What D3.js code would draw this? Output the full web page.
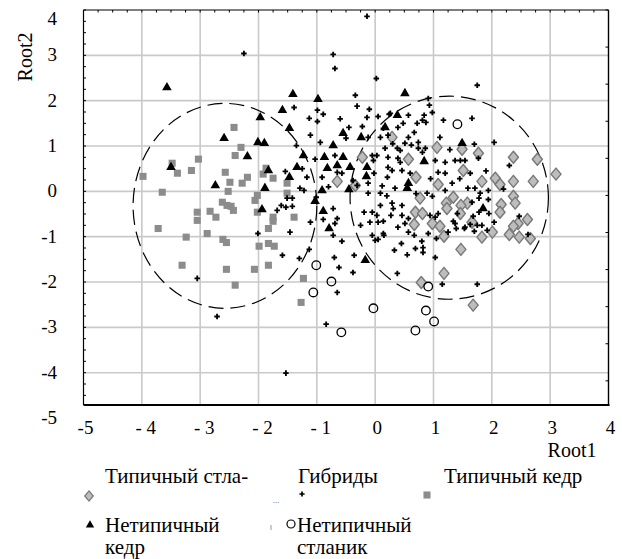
<!DOCTYPE html>
<html>
<head>
<meta charset="utf-8">
<script src="https://cdn.jsdelivr.net/npm/d3@7"></script>
<style>
  html, body { margin: 0; padding: 0; background: #fff; }
</style>
</head>
<body>
<svg id="chart" width="622" height="559"></svg>
<script>
// Canonical discriminant scores (Root1, Root2) for five groups
const typicalStlanik = [
  [-0.65,0.22],[-0.22,0.75],[0.29,1.19],[0.57,0.71],[0.70,0.31],[1.06,0.97],[1.49,0.93],
  [1.08,0.15],[1.51,0.46],[1.77,0.84],[1.83,0.22],[2.06,0.29],[2.14,0.15],[2.37,0.75],
  [2.37,0.22],[2.71,0.22],[2.78,0.71],[3.10,0.38],[2.37,-0.11],[2.40,-0.26],[2.16,-0.29],
  [2.14,-0.46],[2.61,-0.62],[2.45,-0.71],[2.30,-0.95],[2.47,-1.01],[2.66,-1.04],[2.01,-0.90],
  [1.83,-1.01],[1.66,-0.68],[1.58,-0.26],[1.47,-0.31],[1.34,-0.13],[1.22,-0.26],[1.23,-0.38],
  [0.77,-0.15],[0.69,-0.46],[0.81,-0.49],[0.67,-0.73],[0.98,-0.71],[1.11,-0.77],[1.18,-0.99],
  [1.46,-0.49],[1.47,-1.28],[1.18,-1.81],[0.79,-2.01],[1.68,-2.51],[-0.34,0.13],[2.37,-0.77]
];
const hybrids = [
  [-2.25,3.04],[-0.14,3.86],[-0.72,3.02],[-0.69,2.71],[0.02,2.49],[1.75,2.34],[-0.34,2.12],
  [0.91,2.05],[-1.39,1.85],[-0.99,1.79],[-0.89,1.70],[-0.99,1.54],[-1.13,1.61],[-0.31,1.88],
  [-0.10,1.81],[-0.14,1.63],[0.05,1.65],[0.24,1.70],[0.57,1.68],[0.84,1.68],[0.81,1.57],
  [0.93,1.90],[0.98,1.74],[1.17,1.57],[1.66,1.61],[0.48,1.50],[0.72,1.50],[-0.45,1.41],
  [-0.22,1.43],[-1.11,1.24],[-1.35,1.01],[-0.94,1.08],[-0.50,1.17],[-0.12,1.19],[0.09,1.19],
  [0.22,1.24],[0.39,1.41],[0.57,1.19],[0.67,1.30],[0.74,1.08],[1.11,1.19],[0.51,1.06],
  [1.70,1.04],[2.04,1.08],[1.77,0.73],[2.30,0.57],[-1.03,0.71],[-0.69,0.79],[-1.54,0.44],
  [-1.17,0.31],[-0.91,0.31],[-0.65,0.42],[-0.57,0.40],[-0.38,0.24],[-0.31,0.13],[-1.29,0.07],
  [-1.22,0.02],[-1.01,-0.13],[-1.51,-0.15],[-1.42,-0.15],[-1.61,-0.31],[-1.53,-0.35],
  [-1.42,-0.33],[-1.68,-0.42],[-0.72,-0.38],[-0.65,-0.60],[-0.69,-0.71],[-0.89,-0.62],
  [-1.11,-0.68],[-0.72,-0.97],[-0.57,-1.10],[-2.01,-0.93],[-1.46,-0.90],[-1.59,-1.41],
  [-1.30,-1.48],[-0.70,-1.46],[-0.62,-1.68],[-0.38,-1.79],[-0.65,-2.23],[-3.05,-1.92],
  [-2.71,-2.76],[-1.53,-4.01],[-0.84,-2.93],[0.38,-1.81],[1.15,-2.05],[1.75,-2.05],
  [1.03,-1.46],[0.69,-1.26],[0.82,-1.24],[0.82,-1.35],[0.45,-1.15],[0.00,-1.08],[0.14,-0.93],
  [0.26,1.72],[0.87,1.52],[0.14,1.39],[0.74,0.95],[0.86,0.95],[0.81,0.86],[0.38,0.95],
  [0.43,0.90],[0.17,0.95],[-0.05,0.79],[0.03,0.79],[-0.03,0.68],[0.22,0.75],[0.39,0.73],
  [0.22,0.53],[0.29,0.46],[0.21,0.31],[0.46,0.46],[0.43,0.64],[1.03,0.68],[1.20,0.64],
  [1.37,0.68],[1.46,0.68],[1.54,0.68],[1.08,0.42],[1.20,0.40],[1.32,0.18],[1.63,0.40],
  [-0.12,0.18],[0.34,0.07],[-0.12,-0.04],[0.09,-0.04],[0.89,-0.04],[0.98,-0.11],[1.20,0.02],
  [1.59,0.07],[0.09,-0.31],[0.29,-0.26],[0.31,-0.38],[0.46,-0.31],[-0.19,-0.46],[-0.05,-0.46],
  [0.03,-0.53],[0.27,-0.53],[0.46,-0.53],[0.57,-0.60],[0.94,-0.53],[1.03,-0.57],[1.08,-0.49],
  [-0.09,-0.68],[0.05,-0.68],[0.39,-0.79],[0.51,-0.71],[0.57,-0.90],[0.91,-0.93],[1.37,-0.71],
  [1.54,-0.79],[-0.05,-0.97],[0.15,-0.97],[0.05,-1.06],[0.67,-0.97],[1.05,-1.04],[1.39,-0.82],
  [1.53,-0.82],[1.68,-0.55],[1.34,-0.66],[1.41,-0.49],[1.78,-0.46],[1.63,-0.73],[1.75,-0.75],
  [1.83,-0.75],[2.04,-0.68],[1.95,-0.49],[1.92,-0.86],[1.71,0.07],[1.80,-0.04],[1.94,0.02],
  [1.66,-0.24],[1.78,-0.15],[1.94,-0.18],[1.70,-0.88],[2.47,-0.55],[2.62,-0.95],[0.14,-0.66],
  [-0.36,-1.41],[-1.13,-1.28],
  [0.62,1.02],[0.30,1.05],[1.28,0.92],[0.95,0.28],[0.60,0.40],[-0.02,0.40],[0.12,0.12],
  [0.70,-0.05],[1.45,0.28],[0.20,-0.10],[1.25,-0.90],[0.80,-1.10],[-0.25,-0.75],[0.33,-1.30],
  [-0.80,0.10],[-1.25,0.50],[-0.60,1.60],[1.90,0.45],[2.20,0.05],[0.55,-1.40]
];
const typicalKedr = [
  [-2.42,1.41],[-2.30,0.97],[-2.40,0.79],[-3.03,0.71],[-3.48,0.62],[-3.39,0.40],[-3.15,0.46],
  [-3.98,0.33],[-2.57,0.42],[-2.49,0.20],[-2.19,0.31],[-2.28,0.18],[-1.87,0.51],[-1.92,0.38],
  [-1.75,0.29],[-1.51,0.18],[-3.65,-0.02],[-2.52,0.00],[-1.51,-0.04],[-2.02,-0.09],
  [-2.06,-0.20],[-2.62,-0.24],[-2.54,-0.31],[-2.47,-0.33],[-2.43,-0.42],[-2.83,-0.44],
  [-2.73,-0.57],[-3.05,-0.46],[-3.05,-0.64],[-2.02,-0.46],[-1.75,-0.57],[-1.39,-0.57],
  [-1.75,-0.66],[-1.83,-0.82],[-3.72,-0.82],[-3.24,-1.01],[-2.88,-0.93],[-2.61,-1.06],
  [-2.55,-1.13],[-3.31,-1.63],[-2.55,-1.72],[-2.40,-2.07],[-2.07,-1.72],[-1.99,-1.21],
  [-1.83,-1.15],[-1.73,-1.21],[-1.83,-1.63],[-1.23,-1.92],[-1.27,-2.45]
];
const atypicalKedr = [
  [-3.57,2.29],[-1.41,2.14],[-0.98,2.03],[-1.59,1.79],[-1.97,1.63],[-1.47,1.39],[-2.59,1.17],
  [-2.01,1.08],[-1.90,1.06],[-2.19,0.77],[-1.23,0.79],[-3.50,0.53],[-2.74,0.13],[-1.83,0.46],
  [-1.34,0.53],[-1.47,0.31],[-1.89,0.07],[-1.03,-0.22],[-1.94,-0.40],[-0.55,1.28],[-0.72,1.01],
  [-0.87,0.75],[-0.55,0.75],[-0.65,0.57],[-0.43,0.53],[-0.82,0.51],[-0.91,0.02],[-0.45,0.04],
  [-0.89,-0.44],[-0.79,-0.82],[-0.24,1.19],[0.17,1.41],[0.51,2.16],[0.38,1.68],[-0.14,0.53],
  [-0.15,0.33],[0.84,0.66],[0.57,0.18],[0.55,0.07],[1.49,1.06],[1.85,-0.38],[-0.17,-1.52]
];
const atypicalStlanik = [
  [1.41,1.48],[-1.01,-1.63],[-1.06,-2.23],[-0.75,-1.99],[-0.58,-3.11],[-0.03,-2.58],
  [0.87,-2.63],[0.69,-3.07],[1.01,-2.87],[0.91,-2.10]
];

// Confidence ellipses: centre (Root1, Root2) and semi-axes
const ellipseCentres = [[-2.575,-0.32],[1.27,-0.14]];
const ellipseRadii = [[1.575,2.26],[1.70,2.24]];

// Axes
const xTickValues = [-5,-4,-3,-2,-1,0,1,2,3,4];
const xTickLabels = ["-5","- 4","- 3","- 2","- 1","0","1","2","3","4"];
const yTickValues = [4,3,2,1,0,-1,-2,-3,-4,-5];
const yTickLabels = ["4","3","2","1","0","-1","-2","-3","-4","-5"];
const xTitle = "Root1";
const yTitle = "Root2";
const rightTickStep = 0.818;

const legendLabels = ["Типичный стла-", "Гибриды", "Типичный кедр", "Нетипичный\nкедр", "Нетипичный\nстланик"];

const FONT = "Liberation Serif";
const svg = d3.select("#chart");
const plotLeft = 83.5, plotRight = 608.5, plotTop = 10, plotBottom = 405;
const x = d3.scaleLinear().domain([-5, 4]).range([plotLeft, plotRight]);
const y = d3.scaleLinear().domain([4, -4.713]).range([plotTop, plotBottom]);

// grid
const grid = svg.append("g").attr("stroke", "#c9c9c9").attr("stroke-width", 1.6);
grid.selectAll("line.v").data(xTickValues.filter(v => v > -5 && v < 4)).join("line")
  .attr("x1", d => x(d)).attr("x2", d => x(d)).attr("y1", plotTop).attr("y2", plotBottom);
grid.selectAll("line.h").data(yTickValues.filter(v => v < 4 && v > -4.7)).join("line")
  .attr("y1", d => y(d)).attr("y2", d => y(d)).attr("x1", plotLeft).attr("x2", plotRight);

// minor ticks (inside the frame)
const minor = svg.append("g").attr("stroke", "#000").attr("stroke-width", 1);
const leftMinor = d3.range(4, -4.7, -0.25);
minor.selectAll("line.l").data(leftMinor).join("line")
  .attr("x1", plotLeft).attr("x2", plotLeft + 2.5).attr("y1", d => y(d)).attr("y2", d => y(d));
const topMinor = d3.range(-5, 4.01, 0.25);
minor.selectAll("line.t").data(topMinor).join("line")
  .attr("y1", plotTop).attr("y2", plotTop + 2.5).attr("x1", d => x(d)).attr("x2", d => x(d));
const rightMinor = d3.range(4, -4.7, -rightTickStep);
minor.selectAll("line.r").data(rightMinor).join("line")
  .attr("x1", plotRight).attr("x2", plotRight - 3).attr("y1", d => y(d)).attr("y2", d => y(d));

// frame
svg.append("line").attr("x1", plotLeft).attr("x2", plotLeft).attr("y1", plotTop).attr("y2", plotBottom)
  .attr("stroke", "#000").attr("stroke-width", 1.2);
svg.append("line").attr("x1", plotLeft).attr("x2", plotRight).attr("y1", plotTop).attr("y2", plotTop)
  .attr("stroke", "#000").attr("stroke-width", 1.2);
svg.append("line").attr("x1", plotRight).attr("x2", plotRight).attr("y1", plotTop).attr("y2", plotBottom)
  .attr("stroke", "#000").attr("stroke-width", 1.4);
svg.append("line").attr("x1", plotLeft).attr("x2", plotRight + 1).attr("y1", plotBottom).attr("y2", plotBottom)
  .attr("stroke", "#000").attr("stroke-width", 2.2);

// ellipses
svg.append("g").selectAll("ellipse").data(ellipseCentres).join("ellipse")
  .attr("cx", d => x(d[0])).attr("cy", d => y(d[1]))
  .attr("rx", (d, i) => x(ellipseRadii[i][0]) - x(0))
  .attr("ry", (d, i) => y(0) - y(ellipseRadii[i][1]))
  .attr("fill", "none").attr("stroke", "#000").attr("stroke-width", 1.2)
  .attr("stroke-dasharray", "15,7");

// markers
const sym = (type, size) => d3.symbol().type(type).size(size)();
const diamondPath = "M0,-6L5,0L0,6L-5,0Z";
const marks = svg.append("g");
marks.selectAll("path.sq").data(typicalKedr).join("path")
  .attr("d", sym(d3.symbolSquare, 50))
  .attr("transform", d => `translate(${x(d[0])},${y(d[1])})`)
  .attr("fill", "#8c8c8c");
marks.selectAll("path.dm").data(typicalStlanik).join("path")
  .attr("d", diamondPath)
  .attr("transform", d => `translate(${x(d[0])},${y(d[1])})`)
  .attr("fill", "#bdbdbd").attr("stroke", "#7a7a7a").attr("stroke-width", 1.5)
  .attr("stroke-linejoin", "round");
marks.selectAll("path.tr").data(atypicalKedr).join("path")
  .attr("d", sym(d3.symbolTriangle, 40))
  .attr("transform", d => `translate(${x(d[0])},${y(d[1])})`)
  .attr("fill", "#000");
marks.selectAll("path.hy").data(hybrids).join("path")
  .attr("d", sym(d3.symbolCross, 17))
  .attr("transform", d => `translate(${x(d[0])},${y(d[1])})`)
  .attr("fill", "#000");
marks.selectAll("circle.ci").data(atypicalStlanik).join("circle")
  .attr("cx", d => x(d[0])).attr("cy", d => y(d[1])).attr("r", 4.3)
  .attr("fill", "none").attr("stroke", "#000").attr("stroke-width", 1.3);

// tick labels
svg.append("g").attr("font-family", FONT).attr("font-size", 19).attr("text-anchor", "middle")
  .selectAll("text").data(xTickValues).join("text")
  .attr("x", (d, i) => x(d) + (xTickLabels[i].startsWith("- ") ? 4 : 2))
  .attr("y", 434)
  .text((d, i) => xTickLabels[i]);
svg.append("g").attr("font-family", FONT).attr("font-size", 19).attr("text-anchor", "end")
  .selectAll("text").data(yTickValues).join("text")
  .attr("x", 57)
  .attr("y", d => Math.max(y(d), 19) + 6)
  .text((d, i) => yTickLabels[i]);

// axis titles
svg.append("text").attr("font-family", FONT).attr("x", 572).attr("y", 457).attr("font-size", 20)
  .attr("text-anchor", "middle").text(xTitle);
svg.append("text").attr("font-family", FONT).attr("transform", "translate(32,57) rotate(-90)")
  .attr("font-size", 20).attr("text-anchor", "middle").text(yTitle);

// legend
const legend = svg.append("g").attr("font-family", FONT).attr("font-size", 21);
const textRows = [
  {x: 105, y: 483, t: legendLabels[0]},
  {x: 298, y: 483, t: legendLabels[1]},
  {x: 444, y: 483, t: legendLabels[2]},
  {x: 105, y: 532, t: legendLabels[3]},
  {x: 297, y: 532, t: legendLabels[4]}
];
textRows.forEach(r => {
  const lines = r.t.split("\n");
  const tx = legend.append("text").attr("x", r.x).attr("y", r.y);
  lines.forEach((ln, k) => tx.append("tspan").attr("x", r.x).attr("dy", k ? 22 : 0).text(ln));
});
legend.append("path").attr("d", diamondPath)
  .attr("transform", "translate(89,496) scale(0.85)")
  .attr("fill", "#bdbdbd").attr("stroke", "#7a7a7a").attr("stroke-width", 1.5);
legend.append("path").attr("d", sym(d3.symbolCross, 15))
  .attr("transform", "translate(302,494)").attr("fill", "#000");
legend.append("path").attr("d", sym(d3.symbolSquare, 50))
  .attr("transform", "translate(427,495)").attr("fill", "#8c8c8c");
legend.append("path").attr("d", sym(d3.symbolTriangle, 30))
  .attr("transform", "translate(90,525)").attr("fill", "#000");
legend.append("circle").attr("cx", 291).attr("cy", 524).attr("r", 4)
  .attr("fill", "none").attr("stroke", "#000").attr("stroke-width", 1.2);
legend.append("text").attr("x", 276).attr("y", 503).attr("font-size", 9)
  .attr("fill", "#666").attr("text-anchor", "middle").text("...");
legend.append("line").attr("x1", 271).attr("x2", 271).attr("y1", 525).attr("y2", 530)
  .attr("stroke", "#999").attr("stroke-width", 1);
</script>
</body>
</html>
